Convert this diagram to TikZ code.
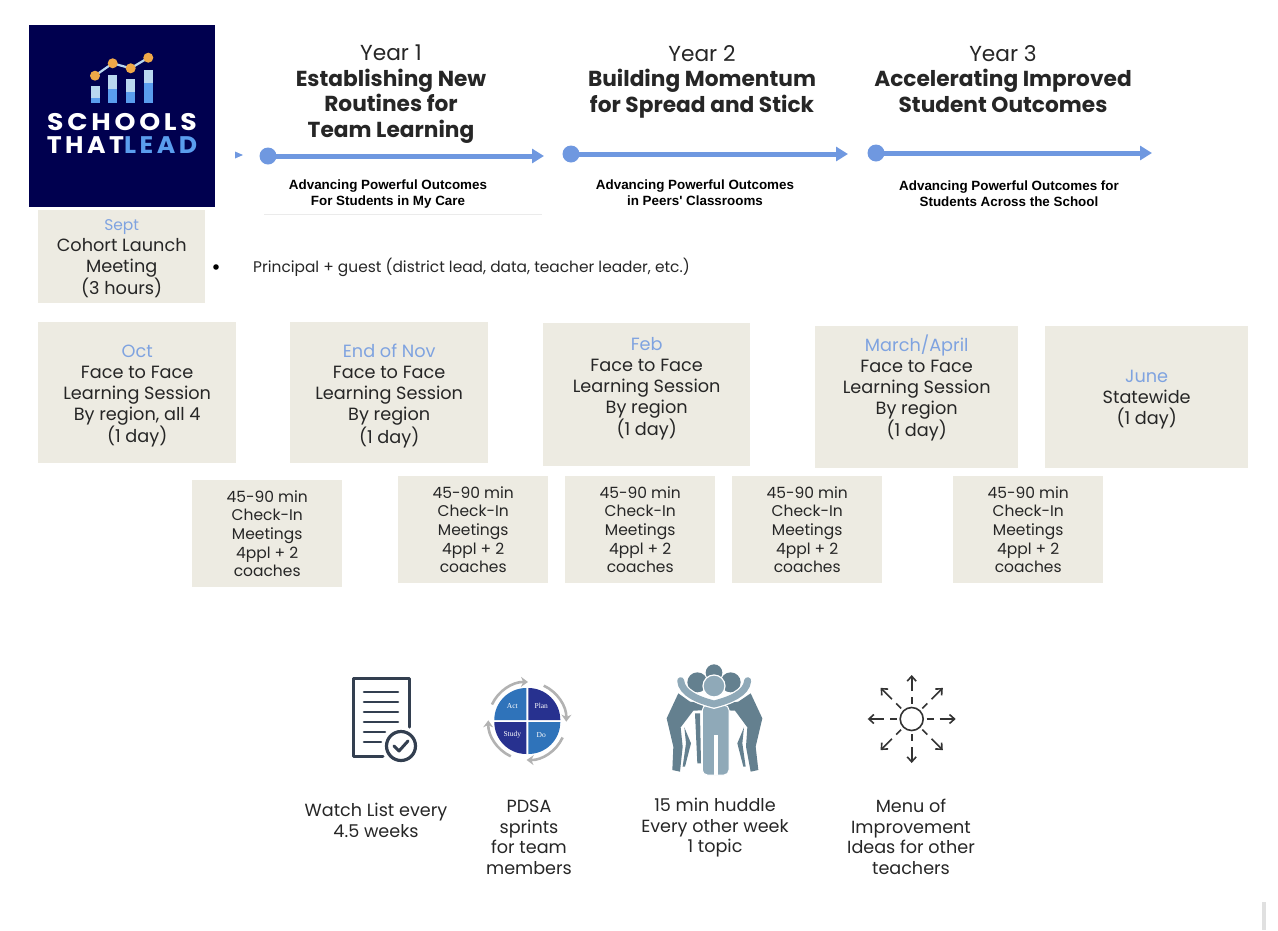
\documentclass[tikz,border=0pt]{standalone}
\usepackage{fontspec}
\usetikzlibrary{arrows.meta,positioning}
\setmainfont{Poppins}
\newfontfamily\arialfont{Liberation Sans}
\newfontfamily\logofont[LetterSpace=14]{Poppins}
\newfontfamily\pdsafont{Liberation Serif}
\definecolor{boxtan}{HTML}{EDEBE2}
\definecolor{monthblue}{HTML}{7FA3E0}
\definecolor{lineblue}{HTML}{6F98E0}
\definecolor{logonavy}{HTML}{00004F}
\definecolor{logoblue}{HTML}{5A9DEE}
\definecolor{logopale}{HTML}{B9D7F0}
\definecolor{logodot}{HTML}{F0A848}
\definecolor{iconslate}{HTML}{333F50}
\definecolor{pdsadark}{HTML}{27318F}
\definecolor{pdsablue}{HTML}{2F73BA}
\definecolor{huddledark}{HTML}{64808F}
\definecolor{huddlelight}{HTML}{8FA9B8}
\tikzset{
x=1pt,y=-1pt,
every node/.style={inner sep=0pt,align=center,text=black!85},
session/.style={fill=boxtan,anchor=north west,font=\fontsize{17.7}{21}\selectfont},
checkin/.style={fill=boxtan,anchor=north west,minimum width=150,minimum height=107,font=\fontsize{15.5}{18.7}\selectfont},
yearhead/.style={font=\fontsize{21.7}{25.5}\selectfont,anchor=north},
outcome/.style={font=\fontsize{13.4}{16}\selectfont\arialfont\bfseries,text=black},
caption/.style={font=\fontsize{17.6}{20.6}\selectfont,anchor=north},
startdot/.style={circle,fill=lineblue,minimum size=17},
timeline/.style={draw=lineblue,line width=5,-{Triangle[length=12,width=14]}},
pdsatext/.style={font=\fontsize{7.5}{9}\pdsafont,text=white},
pdsaarc/.style={draw=black!30,line width=2.6,-{Stealth[length=7,width=10]}},
docline/.style={draw=iconslate,line width=2.6,line cap=round},
sunline/.style={draw=black!80,line width=1.6},
}
\begin{document}
\begin{tikzpicture}
\useasboundingbox (0,0) rectangle (1278,930);
% logo
\fill[logonavy] (29,25) rectangle (215,207);
\foreach \px/\ptop/\pmid in {95/85.7/98.3,112.7/75/89,130.7/79/92.3,148.3/70/83.3}{
  \fill[logopale] (\px-4.5,\ptop) rectangle (\px+4.5,\pmid);
  \fill[logoblue] (\px-4.5,\pmid) rectangle (\px+4.5,103.3);
}
\draw[logopale,line width=2.2] (95,75.7) -- (112.7,63.3) -- (130.7,68.3) -- (148.3,57.7);
\foreach \px/\py in {95/75.7,112.7/63.3,130.7/68.3,148.3/57.7}
  \fill[logodot] (\px,\py) circle (5);
\node[xscale=1.11] (schools) at (122,122) {\fontsize{24}{24}\logofont\bfseries\color{white}SCHOOLS};
\node[xscale=1.05] (thatlead) at (122,145.5) {\fontsize{24}{24}\logofont\bfseries\color{white}THAT\color{logoblue}LEAD};

% years
\node[yearhead] (year1) at (391,45) {Year 1\\ \textbf{Establishing New}\\ \textbf{Routines for}\\ \textbf{Team Learning}};
\node[yearhead] (year2) at (702,45) {Year 2\\ \textbf{Building Momentum}\\ \textbf{for Spread and Stick}};
\node[yearhead] (year3) at (1003,45) {Year 3\\ \textbf{Accelerating Improved}\\ \textbf{Student Outcomes}};

% timeline
\fill[lineblue] (235,151.5) -- (243,155) -- (235,158.5) -- cycle;
\node[startdot] (start1) at (268,156) {};
\coordinate (end1) at (544,156);
\node[startdot] (start2) at (571,154) {};
\coordinate (end2) at (848,154);
\node[startdot] (start3) at (876,153) {};
\coordinate (end3) at (1152,153);
\draw[timeline] (start1.center) -- (end1);
\draw[timeline] (start2.center) -- (end2);
\draw[timeline] (start3.center) -- (end3);
\draw[black!8,line width=.8] (264,214.5) -- (542,214.5);

\node[outcome] (outcome1) at (388,194) {Advancing Powerful Outcomes\\For Students in My Care};
\node[outcome] (outcome2) at (695,193) {Advancing Powerful Outcomes\\in Peers' Classrooms};
\node[outcome] (outcome3) at (1009,193.5) {Advancing Powerful Outcomes for\\Students Across the School};

% sessions
\node[session,minimum width=167,minimum height=93] (sept) at (38,210)
  {\textcolor{monthblue}{\fontsize{15.5}{21}\selectfont Sept}\\Cohort Launch\\Meeting\\(3 hours)\\[-21pt]\mbox{}};
\fill[black] (216,267) circle (2.8);
\node[anchor=west,font=\fontsize{15.4}{20}\selectfont] (guest) at (253,267) {Principal + guest (district lead, data, teacher leader, etc.)};

\node[session,minimum width=198,minimum height=141] (oct) at (38,322)
  {\textcolor{monthblue}{Oct}\\Face to Face\\Learning Session\\By region, all 4\\(1 day)\\[-23pt]\mbox{}};
\node[session,minimum width=198,minimum height=141] (nov) at (290,322)
  {\textcolor{monthblue}{End of Nov}\\Face to Face\\Learning Session\\By region\\(1 day)\\[-23pt]\mbox{}};
\node[session,minimum width=207,minimum height=143] (feb) at (543,323)
  {\textcolor{monthblue}{Feb}\\Face to Face\\Learning Session\\By region\\(1 day)\\[-5pt]\mbox{}};
\node[session,minimum width=203,minimum height=142] (march) at (815,326)
  {\textcolor{monthblue}{March/April}\\Face to Face\\Learning Session\\By region\\(1 day)\\[2pt]\mbox{}};
\node[session,minimum width=203,minimum height=142] (june) at (1045,326)
  {\textcolor{monthblue}{June}\\Statewide\\(1 day)\\[-21pt]\mbox{}};

% check-ins
\node[checkin] (check1) at (192,480) {45-90 min\\Check-In\\Meetings\\4ppl + 2\\coaches};
\node[checkin] (check2) at (398,476) {45-90 min\\Check-In\\Meetings\\4ppl + 2\\coaches};
\node[checkin] (check3) at (565,476) {45-90 min\\Check-In\\Meetings\\4ppl + 2\\coaches};
\node[checkin] (check4) at (732,476) {45-90 min\\Check-In\\Meetings\\4ppl + 2\\coaches};
\node[checkin] (check5) at (953,476) {45-90 min\\Check-In\\Meetings\\4ppl + 2\\coaches};

% watch list icon
\draw[iconslate,line width=3,line join=round,line cap=round] (409,727) -- (409,678) -- (353,678) -- (353,756) -- (383,756);
\foreach \py in {692,702,712,722}
  \draw[docline] (364,\py) -- (398,\py);
\draw[docline] (364,732) -- (385,732);
\draw[docline] (364,742) -- (381,742);
\draw[iconslate,line width=3.2] (401,746) circle (14.5);
\draw[iconslate,line width=3,line cap=round,line join=round] (394,746) -- (399,751) -- (408,741);

% pdsa icon
\begin{scope}[shift={(527.3,721)}]
\fill[pdsablue] (-1,-1) -- (-33,-1) arc[start angle=180,delta angle=90,radius=32] -- cycle;
\fill[pdsadark] (1,-1) -- (1,-33) arc[start angle=270,delta angle=90,radius=32] -- cycle;
\fill[pdsadark] (-1,1) -- (-1,33) arc[start angle=90,delta angle=90,radius=32] -- cycle;
\fill[pdsablue] (1,1) -- (33,1) arc[start angle=0,delta angle=90,radius=32] -- cycle;
\foreach \ang in {205,295,25,115}
  \draw[pdsaarc] (\ang:39) arc[start angle=\ang,delta angle=66,radius=39];
\node[pdsatext] (act) at (-15,-15) {Act};
\node[pdsatext] (plan) at (14,-15) {Plan};
\node[pdsatext] (study) at (-15,14) {Study};
\node[pdsatext] (do) at (14,14) {Do};
\end{scope}

% huddle icon
\begin{scope}[shift={(640,650)},scale=1/3]
\fill[huddledark] (222,68) circle (25);
\fill[huddledark] (172,97) circle (30);
\fill[huddledark] (272,97) circle (30);
\fill[huddledark] (115,130) -- (80,205) -- (100,290) -- (97,360) -- (120,365) -- (128,290) -- (122,232) -- (160,182) -- (210,180) -- (214,162) -- (150,155) -- cycle;
\fill[huddledark] (332,130) -- (367,205) -- (347,290) -- (355,360) -- (332,365) -- (318,290) -- (322,232) -- (285,182) -- (235,180) -- (231,162) -- (295,155) -- cycle;
\fill[huddledark] (133,232) -- (153,280) -- (135,350) -- (128,350) -- (138,280) -- cycle;
\fill[huddledark] (312,232) -- (292,280) -- (310,350) -- (317,350) -- (307,280) -- cycle;
\fill[huddledark] (165,190) -- (180,190) -- (183,340) -- (172,340) -- cycle;
\fill[huddlelight,rounded corners=5,draw=white,line width=1] (187,165) rectangle (267,375);
\fill[white] (222,255) rectangle (233,376);
\draw[white,line width=9.5] (122,92) .. controls (125,130) and (175,150) .. (222,162) .. controls (270,150) and (320,130) .. (323,92);
\draw[huddlelight,line width=7,line cap=round] (122,92) .. controls (125,130) and (175,150) .. (222,162) .. controls (270,150) and (320,130) .. (323,92);
\fill[huddlelight,draw=white,line width=1.2] (222,108) circle (33);
\end{scope}

% menu icon
\begin{scope}[shift={(911.7,719)}]
\draw[sunline] (0,0) circle (11.5);
\foreach \ang in {0,45,...,315}{
  \draw[sunline] (\ang:15) -- (\ang:22);
  \draw[sunline,-{Straight Barb[length=5,width=9]}] (\ang:28) -- (\ang:44);
}
\end{scope}

% captions
\node[caption] (watch) at (376,803) {Watch List every\\4.5 weeks};
\node[caption] (sprints) at (529,800) {PDSA\\sprints\\for team\\members};
\node[caption] (huddle) at (715,798) {15 min huddle\\Every other week\\1 topic};
\node[caption] (menu) at (911,799) {Menu of\\Improvement\\Ideas for other\\teachers};

\fill[black!12] (1262,902) rectangle (1266,930);
\end{tikzpicture}
\end{document}
